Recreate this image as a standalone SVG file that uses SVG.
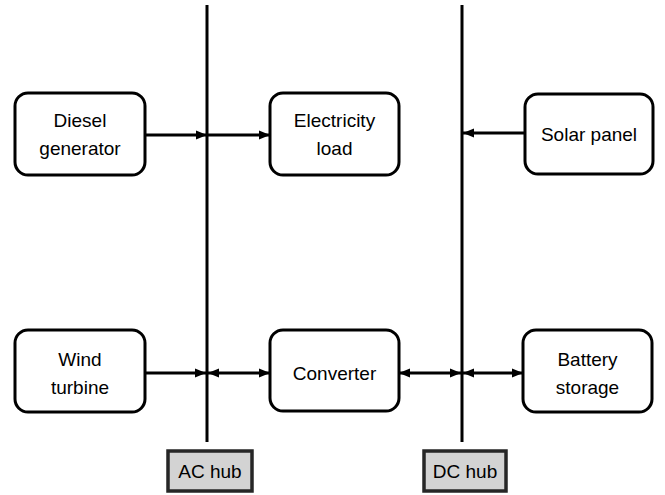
<svg xmlns="http://www.w3.org/2000/svg" width="665" height="495" viewBox="0 0 665 495">
<style>
.node rect{fill:#fff;stroke:#000;stroke-width:3}
.hub rect{fill:#d3d3d3;stroke:#262626;stroke-width:3.5}
text{font-family:"Liberation Sans",Arial,sans-serif;font-size:19px;fill:#000;text-anchor:middle}
.bus{stroke:#000;stroke-width:3}
.conn line{stroke:#000;stroke-width:3;fill:none}
</style>
<defs>
<marker id="ah" markerUnits="userSpaceOnUse" markerWidth="12" markerHeight="12" viewBox="0 0 12 12" refX="11" refY="6" orient="auto-start-reverse">
<path d="M0,1.5 L11,6 L0,10.5 Z" fill="#000"/>
</marker>
</defs>
<rect width="665" height="495" fill="#fff"/>
<g id="buses">
<line class="bus" x1="207" y1="5" x2="207" y2="442"/>
<line class="bus" x1="462" y1="5" x2="462" y2="442"/>
</g>
<g id="connectors" class="conn">
<line x1="145" y1="135" x2="207" y2="135" marker-end="url(#ah)"/>
<line x1="207" y1="135" x2="270" y2="135" marker-end="url(#ah)"/>
<line x1="525" y1="133" x2="463" y2="133" marker-end="url(#ah)"/>
<line x1="145" y1="373" x2="206" y2="373" marker-end="url(#ah)"/>
<line x1="208" y1="373" x2="270" y2="373" marker-start="url(#ah)" marker-end="url(#ah)"/>
<line x1="399" y1="373" x2="461" y2="373" marker-start="url(#ah)" marker-end="url(#ah)"/>
<line x1="463" y1="373" x2="523" y2="373" marker-start="url(#ah)" marker-end="url(#ah)"/>
</g>
<g id="diesel" class="node"><rect x="15" y="93" width="130" height="82" rx="13"/><text x="80" y="127">Diesel</text><text x="80" y="155">generator</text></g>
<g id="load" class="node"><rect x="270" y="93" width="129" height="82" rx="13"/><text x="334.5" y="127">Electricity</text><text x="334.5" y="155">load</text></g>
<g id="solar" class="node"><rect x="525" y="94" width="128" height="80" rx="13"/><text x="589" y="141">Solar panel</text></g>
<g id="wind" class="node"><rect x="15" y="330" width="130" height="82" rx="13"/><text x="80" y="366">Wind</text><text x="80" y="394">turbine</text></g>
<g id="converter" class="node"><rect x="270" y="330" width="129" height="81" rx="13"/><text x="334.5" y="380">Converter</text></g>
<g id="battery" class="node"><rect x="523" y="330" width="129" height="82" rx="13"/><text x="587.5" y="366">Battery</text><text x="587.5" y="394">storage</text></g>
<g id="achub" class="hub"><rect x="168" y="451" width="84" height="40"/><text x="210" y="478">AC hub</text></g>
<g id="dchub" class="hub"><rect x="424" y="451" width="82" height="40"/><text x="465" y="478">DC hub</text></g>
</svg>
